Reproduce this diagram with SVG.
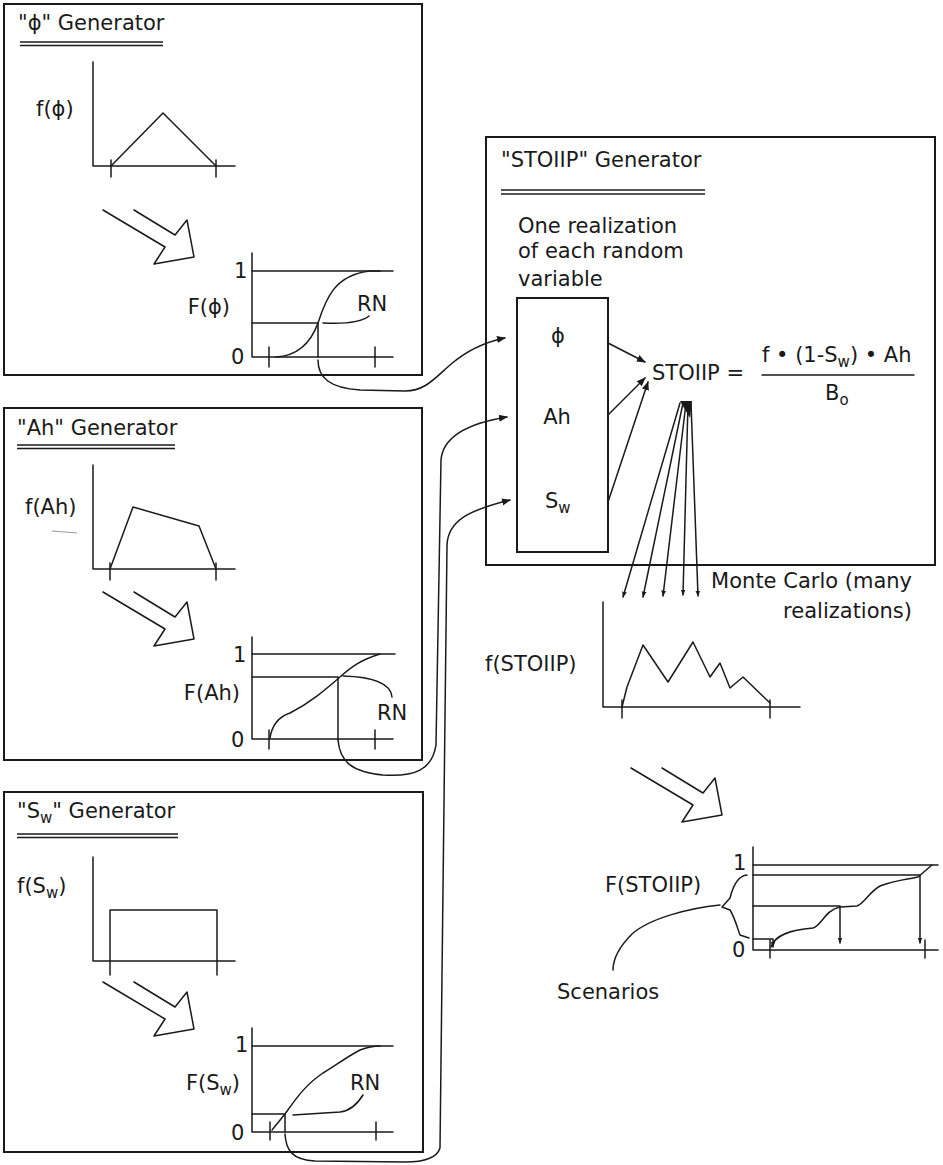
<svg xmlns="http://www.w3.org/2000/svg" width="943" height="1165" viewBox="0 0 943 1165">
<style>
text{font-family:"DejaVu Sans","Liberation Sans",sans-serif;font-size:21px;fill:#1a1a1a}
.sub{font-size:15px}
.box{fill:none;stroke:#1a1a1a;stroke-width:2}
.ln{fill:none;stroke:#1a1a1a;stroke-width:1.5;stroke-linejoin:round;stroke-linecap:round}
.ul{fill:none;stroke:#1a1a1a;stroke-width:1.4}
.faint{fill:none;stroke:#999;stroke-width:1}
</style>
<defs>
<marker id="ah" viewBox="0 0 10 10" refX="9" refY="5" markerWidth="9" markerHeight="9" markerUnits="userSpaceOnUse" orient="auto"><path d="M0,1 L10,5 L0,9 z" fill="#1a1a1a"/></marker>
<marker id="ahs" viewBox="0 0 10 10" refX="9" refY="5" markerWidth="6" markerHeight="6" markerUnits="userSpaceOnUse" orient="auto"><path d="M0,1 L10,5 L0,9 z" fill="#1a1a1a"/></marker>
<path id="hollow" d="M31,0 L72,25 L84,10 L91,47 L51,54 L62,37 L0,0" class="ln"/>
</defs>
<rect width="943" height="1165" fill="#fff"/>

<g id="phi-generator">
<rect class="box" x="4" y="4" width="418" height="371"/>
<text x="18" y="30">"ϕ" Generator</text>
<line class="ul" x1="20" y1="42" x2="163" y2="42"/><line class="ul" x1="20" y1="45.5" x2="163" y2="45.5"/>
<text x="36" y="116">f(ϕ)</text>
<polyline class="ln" points="93,62 93,166 235,166"/>
<line class="ln" x1="111" y1="160" x2="111" y2="177"/><line class="ln" x1="216" y1="160" x2="216" y2="177"/>
<polyline class="ln" points="111,166 163,113 216,166"/>
<use href="#hollow" x="103" y="210"/>
<text x="230" y="314" text-anchor="end">F(ϕ)</text>
<text x="234" y="278">1</text>
<text x="231" y="364">0</text>
<polyline class="ln" points="252,253 252,357 393,357"/>
<line class="ln" x1="252" y1="271" x2="393" y2="271"/>
<polyline class="ln" points="252,323 318,323 318,357"/>
<line class="ln" x1="269" y1="347" x2="269" y2="367"/><line class="ln" x1="375" y1="347" x2="375" y2="367"/>
<path class="ln" d="M276,357 C295,356 310,345 318,323 C326,298 335,275 370,271 L380,271"/>
<text x="357" y="311">RN</text>
<path class="ln" d="M369,316 C362,322 345,324 323,323"/>
</g>

<g id="ah-generator">
<rect class="box" x="4" y="408" width="418" height="352"/>
<text x="17" y="435">"Ah" Generator</text>
<line class="ul" x1="17" y1="445" x2="175" y2="445"/><line class="ul" x1="17" y1="448.5" x2="175" y2="448.5"/>
<text x="25" y="514">f(Ah)</text>
<line class="faint" x1="52" y1="531" x2="77" y2="533"/>
<polyline class="ln" points="93,465 93,569 235,569"/>
<line class="ln" x1="110" y1="563" x2="110" y2="580"/><line class="ln" x1="216" y1="563" x2="216" y2="580"/>
<polyline class="ln" points="110,569 133,507 199,526 216,569"/>
<use href="#hollow" x="103" y="592"/>
<text x="240" y="700" text-anchor="end">F(Ah)</text>
<text x="233" y="662">1</text>
<text x="231" y="747">0</text>
<polyline class="ln" points="252,637 252,739 393,739"/>
<line class="ln" x1="252" y1="654" x2="395" y2="654"/>
<polyline class="ln" points="252,677 338,677 338,740"/>
<line class="ln" x1="269" y1="730" x2="269" y2="749"/><line class="ln" x1="375" y1="730" x2="375" y2="749"/>
<path class="ln" d="M270,738 C272,725 278,717 290,713 C310,703 325,690 340,677 C350,668 360,660 380,654"/>
<text x="377" y="720">RN</text>
<path class="ln" d="M392,697 C391,685 378,677 343,676"/>
</g>

<g id="sw-generator">
<rect class="box" x="4" y="792" width="419" height="360"/>
<text x="17" y="818">"S<tspan class="sub" dy="5">w</tspan><tspan dy="-5">" Generator</tspan></text>
<line class="ul" x1="17" y1="834" x2="178" y2="834"/><line class="ul" x1="17" y1="837.5" x2="178" y2="837.5"/>
<text x="17" y="893">f(S<tspan class="sub" dy="5">w</tspan><tspan dy="-5">)</tspan></text>
<polyline class="ln" points="93,857 93,961 235,961"/>
<polyline class="ln" points="110,975 110,910 217,910 217,975"/>
<use href="#hollow" x="103" y="982"/>
<text x="240" y="1090" text-anchor="end">F(S<tspan class="sub" dy="5">w</tspan><tspan dy="-5">)</tspan></text>
<text x="235" y="1052">1</text>
<text x="231" y="1140">0</text>
<polyline class="ln" points="252,1028 252,1132 393,1132"/>
<line class="ln" x1="252" y1="1046" x2="393" y2="1046"/>
<polyline class="ln" points="252,1114 285,1114 285,1132"/>
<line class="ln" x1="270" y1="1122" x2="270" y2="1140"/><line class="ln" x1="376" y1="1122" x2="376" y2="1140"/>
<path class="ln" d="M272,1130 L285,1114 C295,1100 305,1085 323,1073 C335,1066 345,1058 360,1050 C368,1047 373,1046 380,1046"/>
<text x="350" y="1090">RN</text>
<path class="ln" d="M363,1095 C358,1103 350,1111 340,1112 L293,1115"/>
</g>

<g id="stoiip-generator">
<rect class="box" x="486" y="137" width="449" height="428"/>
<text x="501" y="167">"STOIIP" Generator</text>
<line class="ul" x1="501" y1="190" x2="705" y2="190"/><line class="ul" x1="501" y1="194" x2="705" y2="194"/>
<text x="518" y="233">One realization</text>
<text x="518" y="258">of each random</text>
<text x="518" y="286">variable</text>
<rect class="box" x="517" y="298" width="91" height="254" stroke-width="1.6"/>
<text x="558" y="343" text-anchor="middle">ϕ</text>
<text x="557" y="424" text-anchor="middle">Ah</text>
<text x="545" y="508">S<tspan class="sub" dy="5">w</tspan></text>
<text x="652" y="380">STOIIP =</text>
<text x="762" y="362">f • (1-S<tspan class="sub" dy="5">w</tspan><tspan dy="-5">) • Ah</tspan></text>
<line class="ln" x1="762" y1="375" x2="914" y2="375"/>
<text x="825" y="400">B<tspan class="sub" dy="5">o</tspan></text>
</g>

<g id="monte-carlo">
<polygon points="680,401 692,401 690,418" fill="#1a1a1a"/>
<line class="ln" x1="680" y1="403" x2="623" y2="597" marker-end="url(#ahs)"/>
<line class="ln" x1="683" y1="403" x2="643" y2="597" marker-end="url(#ahs)"/>
<line class="ln" x1="686" y1="403" x2="663" y2="596" marker-end="url(#ahs)"/>
<line class="ln" x1="688" y1="403" x2="683" y2="595" marker-end="url(#ahs)"/>
<line class="ln" x1="691" y1="403" x2="698" y2="596" marker-end="url(#ahs)"/>
<text x="912" y="588" text-anchor="end">Monte Carlo (many</text>
<text x="912" y="618" text-anchor="end">realizations)</text>
</g>

<g id="f-stoiip">
<text x="485" y="671">f(STOIIP)</text>
<polyline class="ln" points="603,602 603,707 800,707"/>
<line class="ln" x1="622" y1="700" x2="622" y2="718"/><line class="ln" x1="770" y1="700" x2="770" y2="718"/>
<polyline class="ln" points="622,707 627,687 643,645 668,682 693,642 710,677 720,663 730,688 743,677 770,703"/>
<use href="#hollow" x="631" y="768"/>
</g>

<g id="F-stoiip">
<text x="605" y="892">F(STOIIP)</text>
<text x="733" y="870">1</text>
<text x="732" y="957">0</text>
<polyline class="ln" points="753,847 753,950 938,950"/>
<line class="ln" x1="770" y1="940" x2="770" y2="958"/><line class="ln" x1="925" y1="940" x2="925" y2="958"/>
<line class="ln" x1="753" y1="865" x2="938" y2="865"/>
<polyline class="ln" points="753,875 920,875 920,943" marker-end="url(#ahs)"/>
<polyline class="ln" points="753,906 840,906 840,943" marker-end="url(#ahs)"/>
<polyline class="ln" points="753,939 773,939 773,947" marker-end="url(#ahs)"/>
<path class="ln" d="M771,947 C775,935 790,930 813,928 C822,925 825,910 840,907 L857,906 C865,903 868,893 880,886 C895,880 910,879 918,877 L932,865"/>
<path class="ln" d="M747,875 C736,876 732,890 730,898 L722,907 L730,910 C735,918 738,930 740,935 L749,938"/>
<path class="ln" d="M720,905 C690,908 650,918 632,934 C619,947 613,960 613,970"/>
<text x="557" y="999">Scenarios</text>
</g>

<g id="connectors">
<path class="ln" d="M318,360 C318,378 330,388 360,390 L405,391 C425,391 435,378 450,365 C465,352 485,342 505,338" marker-end="url(#ah)"/>
<path class="ln" d="M338,740 C340,762 352,772 383,775 C415,777 432,770 436,745 L441,460 C443,435 470,423 507,417" marker-end="url(#ah)"/>
<path class="ln" d="M285,1134 C286,1150 292,1160 315,1161 L405,1162 C425,1162 437,1158 440,1148 L447,545 C448,520 470,510 510,500" marker-end="url(#ah)"/>
<line class="ln" x1="608" y1="343" x2="645" y2="362" marker-end="url(#ah)"/>
<line class="ln" x1="608" y1="415" x2="645" y2="378" marker-end="url(#ah)"/>
<line class="ln" x1="608" y1="502" x2="648" y2="382" marker-end="url(#ah)"/>
</g>
</svg>
